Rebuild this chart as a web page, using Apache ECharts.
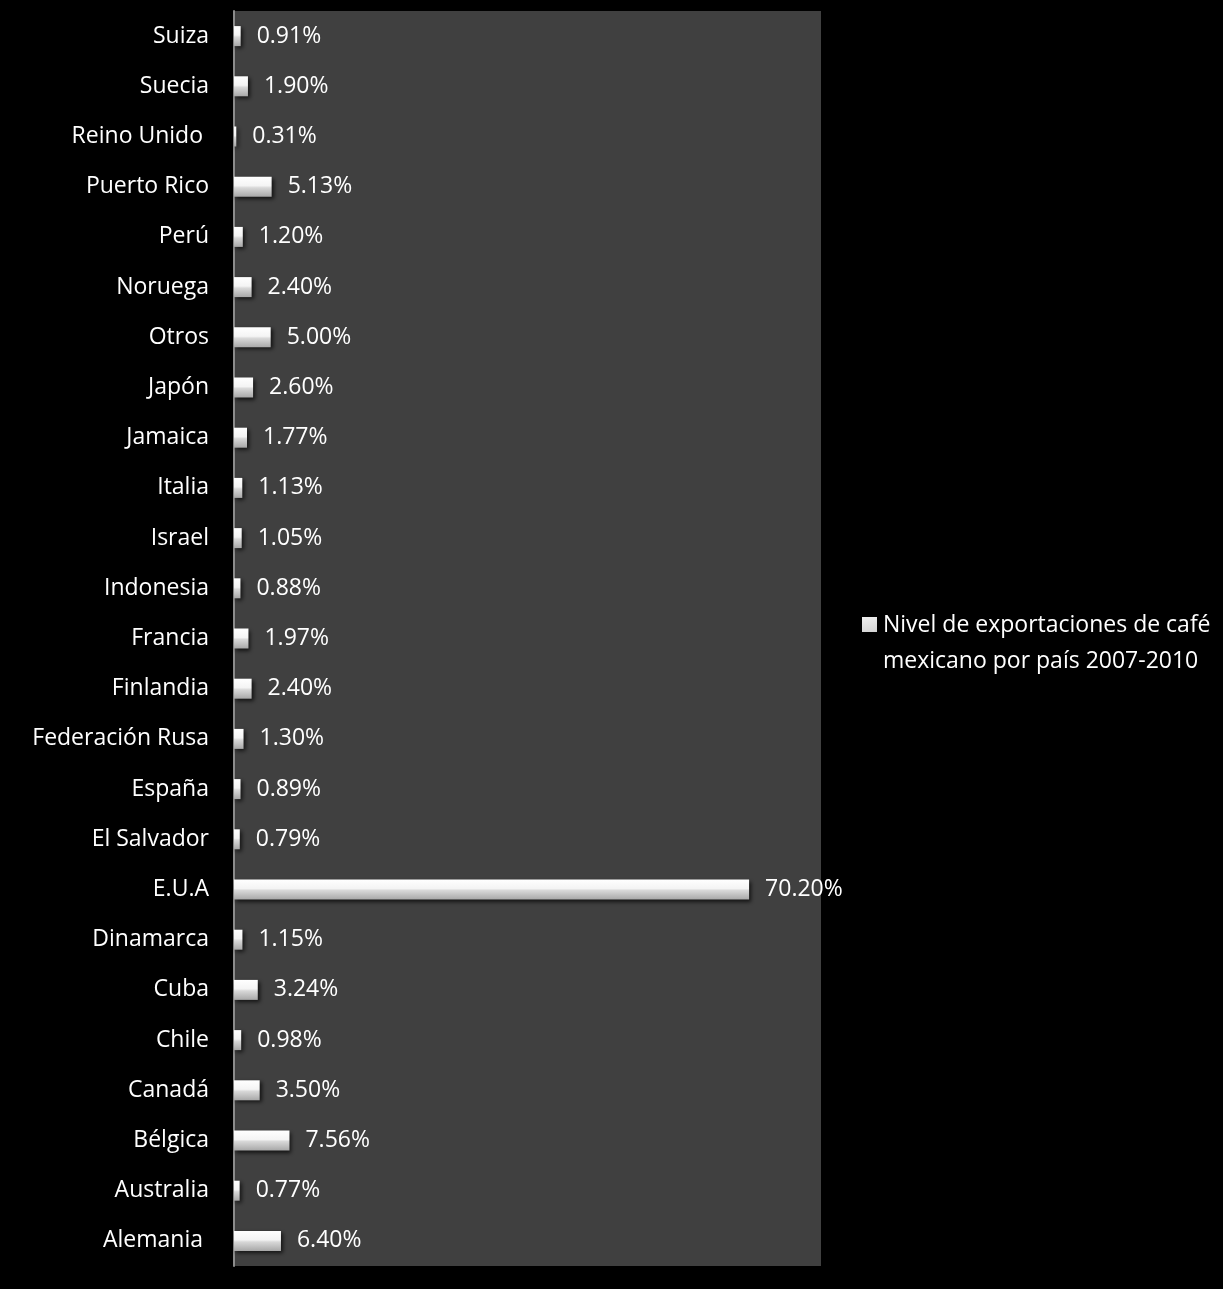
<!DOCTYPE html>
<html><head><meta charset="utf-8">
<script src="https://cdn.jsdelivr.net/npm/echarts@6/dist/echarts.min.js"></script>
<style>html,body{margin:0;padding:0;background:#000;}#c{width:1223px;height:1289px;}</style>
</head><body><div id="c"></div>
<script>
const categories = ['Alemania ', 'Australia', 'Bélgica', 'Canadá', 'Chile', 'Cuba', 'Dinamarca', 'E.U.A', 'El Salvador', 'España', 'Federación Rusa', 'Finlandia', 'Francia', 'Indonesia', 'Israel', 'Italia', 'Jamaica', 'Japón', 'Otros', 'Noruega', 'Perú', 'Puerto Rico', 'Reino Unido ', 'Suecia', 'Suiza'];
const values = [6.40, 0.77, 7.56, 3.50, 0.98, 3.24, 1.15, 70.20, 0.79, 0.89, 1.30, 2.40, 1.97, 0.88, 1.05, 1.13, 1.77, 2.60, 5.00, 2.40, 1.20, 5.13, 0.31, 1.90, 0.91];
const seriesName = 'Nivel de exportaciones de café\nmexicano por país 2007-2010';
const FONT = 'Open Sans';
const FS = 23;
const chart = echarts.init(document.getElementById('c'));
chart.setOption({
  backgroundColor: '#000',
  animation: false,
  grid: { left: 234, right: 402, top: 11, bottom: 23, show: true, backgroundColor: '#404040', borderWidth: 0 },
  legend: {
    left: 862, top: 607, padding: 0, orient: 'vertical',
    icon: 'path://M0,0H0.1V0.1H0Z M0,10H15V25H0Z M0,71.9H0.1V72H0Z',
    symbolKeepAspect: false, itemWidth: 15, itemHeight: 72, itemGap: 0,
    textStyle: { color: '#fff', fontFamily: FONT, fontSize: FS, lineHeight: 36, padding: [0, 0, 0, 1] },
    data: [{ name: seriesName, itemStyle: { color: new echarts.graphic.LinearGradient(0,0,1,1,[{offset:0,color:'#ffffff'},{offset:1,color:'#8a8a8a'}]) } }]
  },
  xAxis: { type: 'value', min: 0, max: 80, show: false },
  yAxis: {
    type: 'category', data: categories,
    axisLine: { show: true, lineStyle: { color: '#8c8c8c', width: 2 } },
    axisTick: { show: false },
    axisLabel: { color: '#fff', fontFamily: FONT, fontSize: FS, margin: 25, padding: [4, 0, 0, 0] }
  },
  series: [{
    name: seriesName, type: 'bar', data: values, barWidth: 20,
    itemStyle: {
      color: new echarts.graphic.LinearGradient(0, 0, 0, 1, [
        { offset: 0, color: '#ffffff' }, { offset: 0.45, color: '#f4f4f4' }, { offset: 0.55, color: '#d8d8d8' }, { offset: 1, color: '#a8a8a8' }
      ]),
      shadowColor: 'rgba(0,0,0,0.7)', shadowBlur: 4, shadowOffsetX: 2, shadowOffsetY: 2
    },
    label: { show: true, position: 'right', distance: 16, color: '#fff', fontFamily: FONT, fontSize: FS,
      padding: [4, 0, 0, 0], formatter: p => p.value.toFixed(2) + '%' }
  }]
});
</script></body></html>
